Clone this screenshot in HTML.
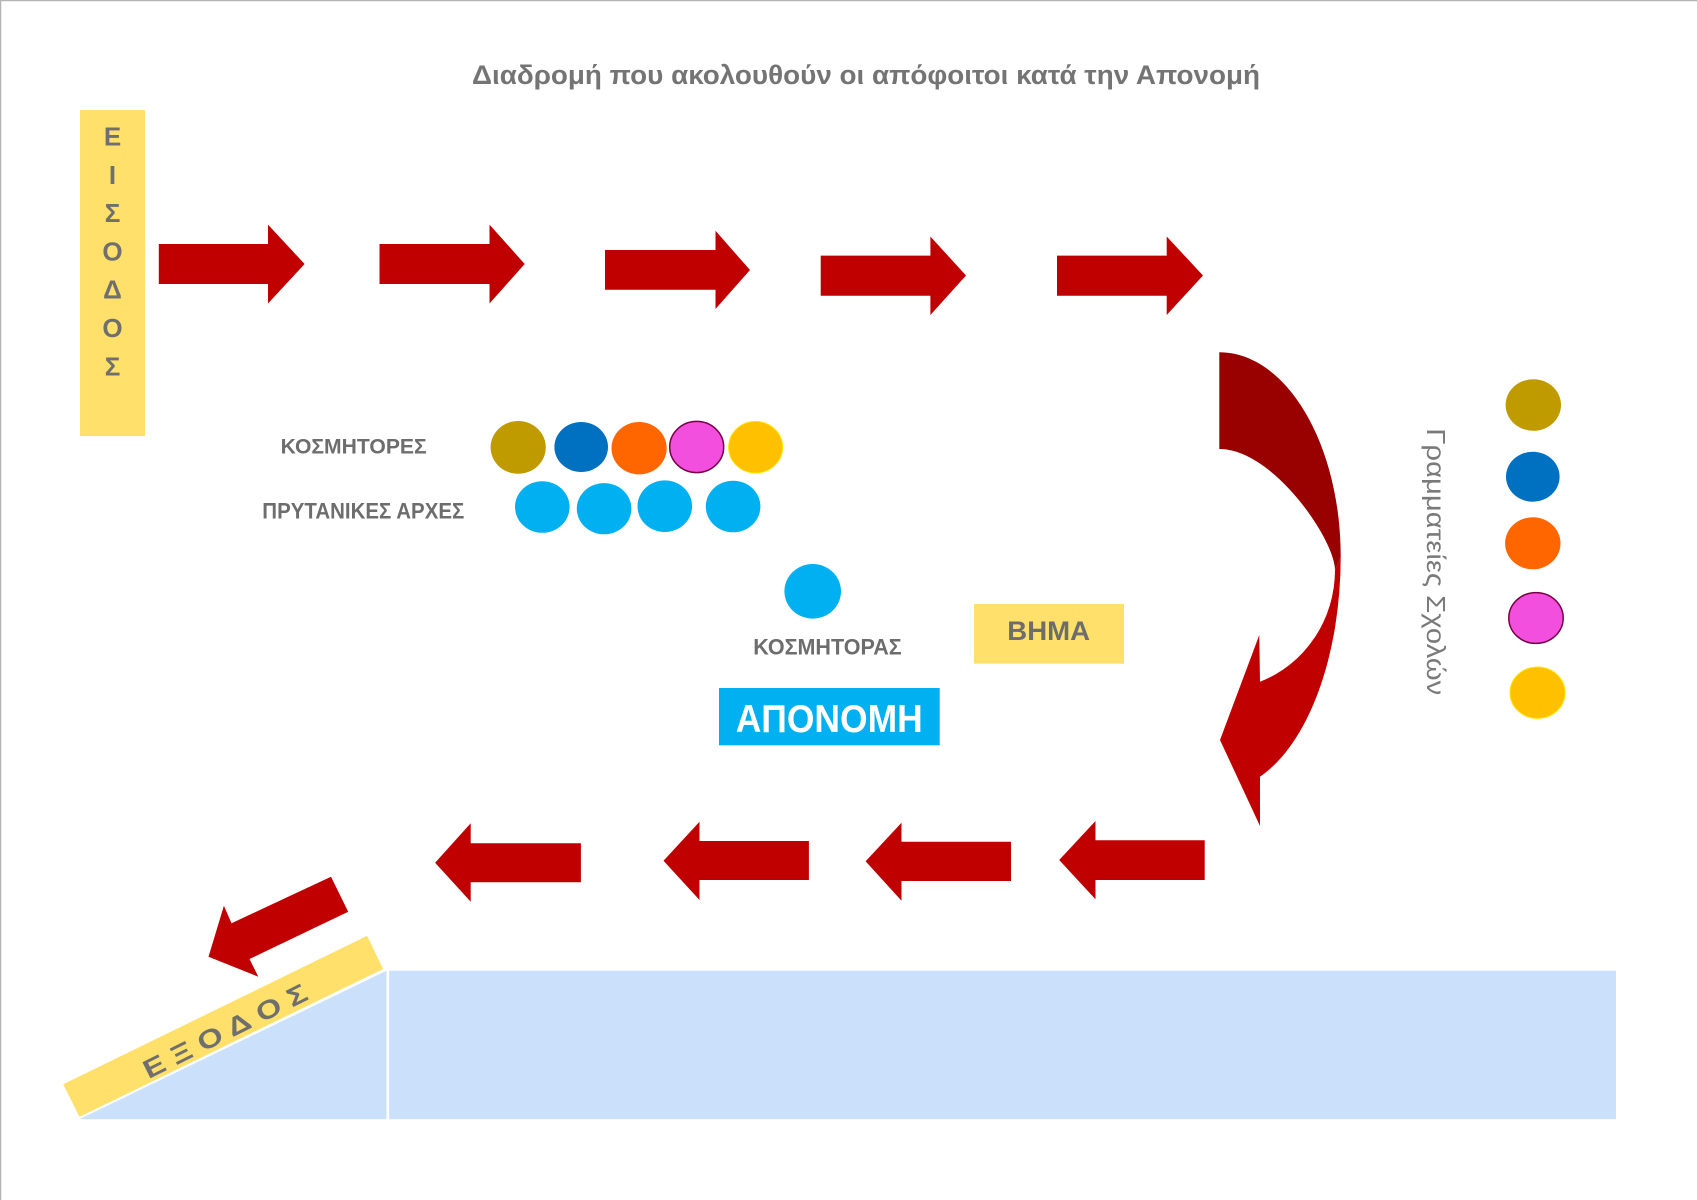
<!DOCTYPE html>
<html>
<head>
<meta charset="utf-8">
<style>
html,body{margin:0;padding:0;background:#fff;}
svg{display:block;}
text{font-family:"Liberation Sans","DejaVu Sans",sans-serif;}
</style>
</head>
<body>
<svg width="1697" height="1200" viewBox="0 0 1697 1200" xmlns="http://www.w3.org/2000/svg">
<rect x="0" y="0" width="1697" height="1200" fill="#ffffff"/>
<line x1="0" y1="0.5" x2="1697" y2="0.5" stroke="#b4b4b4" stroke-width="1.5"/>
<line x1="0.5" y1="0" x2="0.5" y2="1200" stroke="#b4b4b4" stroke-width="1.5"/>

<!-- Title -->
<text x="472" y="84" font-size="27" font-weight="bold" fill="#747474" textLength="788" lengthAdjust="spacingAndGlyphs">Διαδρομή που ακολουθούν οι απόφοιτοι κατά την Απονομή</text>

<!-- ΕΙΣΟΔΟΣ -->
<rect x="80" y="110" width="65" height="326" fill="#ffe06b"/>
<g font-size="26" font-weight="bold" fill="#6f6f6f" text-anchor="middle">
<text x="112.5" y="145.5">Ε</text>
<text x="112.5" y="183.8">Ι</text>
<text x="112.5" y="222.1">Σ</text>
<text x="112.5" y="260.4">Ο</text>
<text x="112.5" y="298.7">Δ</text>
<text x="112.5" y="337">Ο</text>
<text x="112.5" y="375.3">Σ</text>
</g>

<!-- Top arrows -->
<g fill="#c00000">
<polygon points="158.8,244 268,244 268,224.6 304.6,264 268,303.5 268,284 158.8,284"/>
<polygon points="379.5,244 489.5,244 489.5,224.6 524.7,264 489.5,303.5 489.5,284 379.5,284"/>
<polygon points="605,250 715.5,250 715.5,230.8 750,270 715.5,309 715.5,289.7 605,289.7"/>
<polygon points="820.7,255.6 930.4,255.6 930.4,236.5 966,275.5 930.4,315 930.4,295.8 820.7,295.8"/>
<polygon points="1057,255.6 1166.7,255.6 1166.7,236.5 1203,275.5 1166.7,315 1166.7,295.8 1057,295.8"/>
</g>

<!-- Curved arrow -->
<path d="M1219.3,352.3 C1286.3,352.3 1340.7,444 1340.7,556.7 L1335,570 C1335,540 1273.3,449 1219.3,449 Z" fill="#990000"/>
<path d="M1340.7,556.7 A121.3,233.3 0 0 1 1260,776.7 L1260,826 L1220,740 L1259.3,635 L1260,681.7 A115.7,119.3 0 0 0 1335,570 Z" fill="#c00000"/>

<!-- Vertical text -->
<text transform="translate(1427,428.3) rotate(90)" font-size="26" fill="#7a7a7a" textLength="267" lengthAdjust="spacingAndGlyphs">Γραμματείες Σχολών</text>

<!-- Right column circles -->
<ellipse cx="1533.3" cy="405" rx="27.7" ry="25.8" fill="#c09b00"/>
<ellipse cx="1532.8" cy="476.7" rx="26.8" ry="25" fill="#0070c0"/>
<ellipse cx="1532.8" cy="543.3" rx="27.7" ry="26" fill="#ff6600"/>
<ellipse cx="1536" cy="618" rx="27.2" ry="25.4" fill="#f24fdf" stroke="#7a0045" stroke-width="1.5"/>
<ellipse cx="1537.5" cy="692.7" rx="27.5" ry="25.7" fill="#ffc000" stroke="#ffe600" stroke-width="1"/>

<!-- Labels -->
<g font-weight="bold" fill="#6d6d6d">
<text x="280.7" y="453.5" font-size="21" textLength="146" lengthAdjust="spacingAndGlyphs">ΚΟΣΜΗΤΟΡΕΣ</text>
<text x="262.3" y="518.3" font-size="22" textLength="202" lengthAdjust="spacingAndGlyphs">ΠΡΥΤΑΝΙΚΕΣ ΑΡΧΕΣ</text>
<text x="753.3" y="654.3" font-size="22" textLength="148.4" lengthAdjust="spacingAndGlyphs">ΚΟΣΜΗΤΟΡΑΣ</text>
</g>

<!-- Κοσμήτορες circles -->
<ellipse cx="518.2" cy="447.4" rx="27.6" ry="26.4" fill="#c09b00"/>
<ellipse cx="581.2" cy="447" rx="26.8" ry="25" fill="#0070c0"/>
<ellipse cx="639.1" cy="448.2" rx="27.6" ry="26.2" fill="#ff6600"/>
<ellipse cx="696.7" cy="447" rx="27" ry="25.6" fill="#f24fdf" stroke="#7a0045" stroke-width="1.5"/>
<ellipse cx="755.6" cy="447.2" rx="27" ry="25.8" fill="#ffc000" stroke="#ffe600" stroke-width="1"/>

<!-- Πρυτανικές αρχές circles -->
<g fill="#00b0f0">
<ellipse cx="542.3" cy="507" rx="27.3" ry="25.8"/>
<ellipse cx="604.1" cy="508.7" rx="27.3" ry="25.6"/>
<ellipse cx="664.8" cy="506.2" rx="27.3" ry="25.8"/>
<ellipse cx="733.1" cy="506.5" rx="27.3" ry="25.8"/>
<ellipse cx="812.7" cy="591.3" rx="28.3" ry="27.3"/>
</g>

<!-- ΒΗΜΑ -->
<rect x="974" y="604" width="150" height="59.7" fill="#ffe06b"/>
<text x="1007.3" y="640" font-size="27" font-weight="bold" fill="#6d6d6d" textLength="82.7" lengthAdjust="spacingAndGlyphs">ΒΗΜΑ</text>

<!-- ΑΠΟΝΟΜΗ -->
<rect x="719" y="688" width="220.7" height="57.3" fill="#00b0f0"/>
<text x="735.7" y="732" font-size="39" font-weight="bold" fill="#ffffff" textLength="187" lengthAdjust="spacingAndGlyphs">ΑΠΟΝΟΜΗ</text>

<!-- Bottom arrows -->
<g fill="#c00000">
<polygon points="580.9,843.3 470.7,843.3 470.7,823.3 435.1,862.7 470.7,901.7 470.7,882.3 580.9,882.3"/>
<polygon points="808.9,841 699.5,841 699.5,821.7 663.5,860.7 699.5,900 699.5,880 808.9,880"/>
<polygon points="1011,841.7 901.5,841.7 901.5,822.7 865.6,861.3 901.5,900.7 901.5,881 1011,881"/>
<polygon points="1204.7,840.3 1095.5,840.3 1095.5,821 1059.2,860 1095.5,899.3 1095.5,880 1204.7,880"/>
<polygon points="331,876.7 348.2,911.7 249.5,959 258.3,976.7 208.5,956.7 223.9,905.7 231.5,923.3"/>
</g>

<!-- Stage -->
<polygon points="79.2,1119.3 386.5,970.7 386.5,1119.3" fill="#cbe0fb"/>
<rect x="389.2" y="970.7" width="1226.8" height="148.5" fill="#cbe0fb"/>
<polygon points="62.4,1084 367.4,935 383.8,969.3 79.2,1117.7" fill="#ffe06b" stroke="#ffffff" stroke-width="1.2"/>
<text transform="translate(225,1031) rotate(-26.5)" font-size="26" font-weight="bold" fill="#6f6f6f" text-anchor="middle" dominant-baseline="central" textLength="180" lengthAdjust="spacingAndGlyphs">Ε Ξ Ο Δ Ο Σ</text>
</svg>
</body>
</html>
